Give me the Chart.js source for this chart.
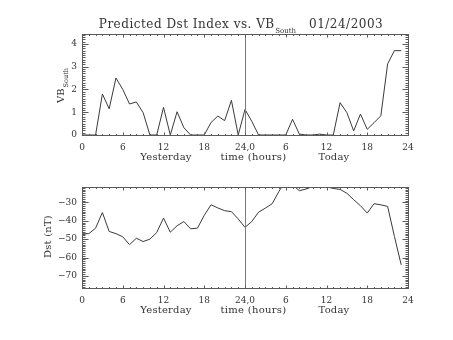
<!DOCTYPE html>
<html><head><meta charset="utf-8">
<script src="https://cdn.jsdelivr.net/npm/chart.js@4"></script>
<style>
html,body{margin:0;padding:0;background:#fff;}
#wrap{position:relative;width:453px;height:340px;overflow:hidden;background:#fff;}
canvas{position:absolute;left:0;}
#c1{top:0;} #c2{top:170px;}
</style></head><body>
<div id="wrap"><canvas id="c1" width="453" height="170"></canvas><canvas id="c2" width="453" height="170"></canvas></div>
<script>
// ---- data ----
const hours = [0,1,2,3,4,5,6,7,8,9,10,11,12,13,14,15,16,17,18,19,20,21,22,23,
               24,25,26,27,28,29,30,31,32,33,34,35,36,37,38,39,40,41,42,43,44,45,46,47];
const vbSouth = [0,0,0,1.8,1.15,2.5,2.0,1.36,1.45,0.98,0,0,1.21,0,1.02,0.32,0,0,0,0.55,0.83,0.63,1.52,0,
                 1.12,0.6,0,0,0,0,0,0.69,0.04,0,0,0.04,0,0,1.42,0.98,0.18,0.92,0.25,0.54,0.84,3.12,3.7,3.7];
const dst = [-47.1,-47,-44,-35.5,-45.8,-47,-48.7,-53,-49.5,-51.3,-50,-46.4,-38.5,-46.2,-42.7,-40.4,-44.4,-44,-37,-31.3,-33,-34.5,-35,-39,
             -43.6,-40.4,-35.3,-33.1,-30.7,-24,-18,-20.5,-23.6,-22.7,-21.3,-20.5,-21.5,-22.4,-22.9,-25,-28.5,-31.8,-35.8,-30.7,-31.3,-32.2,-48.5,-64];
const xTickValues = [0,6,12,18,24,30,36,42,48];
const xTickLabels = ['0','6','12','18','24,0','6','12','18','24'];
const vbTickValues = [0,1,2,3,4];
const dstTickValues = [-70,-60,-50,-40,-30];
const dayBoundary = 24;
const titleMain = 'Predicted Dst Index vs. VB';
const titleSub = 'South';
const titleDate = '01/24/2003';
const xTitleParts = ['Yesterday','time (hours)','Today'];
const vbTitle = 'VB', vbTitleSub = 'South';
const dstTitle = 'Dst (nT)';

// ---- style ----
const FONT = '"DejaVu Serif", serif';
const INK = '#333';
const FRAME = '#5a5a5a';
const LINE = '#3a3a3a';

function txt(ctx, s, x, y, size, align, ls) {
  ctx.font = size + 'px ' + FONT;
  if ('letterSpacing' in ctx) ctx.letterSpacing = (ls || 0) + 'px';
  ctx.textAlign = align || 'left';
  ctx.textBaseline = 'alphabetic';
  ctx.fillText(s, x, y);
}
function tw(ctx, s, size, ls) {
  ctx.font = size + 'px ' + FONT;
  if ('letterSpacing' in ctx) ctx.letterSpacing = (ls || 0) + 'px';
  return ctx.measureText(s).width;
}

const idlPlugin = {
  id: 'idl',
  afterDatasetsDraw(chart, args, o) {
    const {ctx, chartArea: a, scales: {x, y}} = chart;
    ctx.save();
    const L = Math.round(a.left) + 0.5, R = Math.round(a.right) + 0.5;
    const T = Math.round(a.top) + 0.5, B = Math.round(a.bottom) + 0.5;
    // day divider
    const xd = Math.round(x.getPixelForValue(dayBoundary)) + 0.5;
    ctx.strokeStyle = '#7a7a7a'; ctx.lineWidth = 1;
    ctx.beginPath(); ctx.moveTo(xd, T); ctx.lineTo(xd, B); ctx.stroke();
    // frame
    ctx.strokeStyle = FRAME;
    ctx.strokeRect(L, T, R - L, B - T);
    ctx.beginPath();
    for (let k = 0; x.min + k * o.xMinor <= x.max + 1e-9; k++) {
      const v = x.min + k * o.xMinor;
      const px = Math.round(x.getPixelForValue(v)) + 0.5;
      const major = Math.abs(v / o.xMajor - Math.round(v / o.xMajor)) < 1e-6;
      const len = major ? 3 : 1.5;
      ctx.moveTo(px, B); ctx.lineTo(px, B - len);
      ctx.moveTo(px, T); ctx.lineTo(px, T + len);
    }
    for (let k = Math.ceil(y.min / o.yMinor - 1e-9); k * o.yMinor <= y.max + 1e-9; k++) {
      const v = k * o.yMinor;
      const py = Math.round(y.getPixelForValue(v)) + 0.5;
      const major = Math.abs(v / o.yMajor - Math.round(v / o.yMajor)) < 1e-6;
      const len = major ? 6 : 3;
      ctx.moveTo(L, py); ctx.lineTo(L + len, py);
      ctx.moveTo(R, py); ctx.lineTo(R - len, py);
    }
    ctx.stroke();
    ctx.restore();
  },
  afterDraw(chart, args, o) {
    const {ctx, chartArea: a} = chart;
    ctx.save();
    ctx.fillStyle = INK;
    const cx = (a.left + a.right) / 2;
    // x axis title
    const by = a.bottom + 24.5;
    txt(ctx, xTitleParts[0], cx - 79, by, 10, 'center', 0.2);
    txt(ctx, xTitleParts[1], cx + 8.5, by, 10, 'center', 0.3);
    txt(ctx, xTitleParts[2], cx + 89, by, 10, 'center', 0.2);
    // y axis title
    ctx.save();
    if (o.which === 'vb') {
      const w1 = tw(ctx, vbTitle, 10, 0), w2 = tw(ctx, vbTitleSub, 6.5, 0);
      ctx.translate(a.left - 18.5, (a.top + a.bottom) / 2 + 1);
      ctx.rotate(-Math.PI / 2);
      const s = -(w1 + w2 + 1) / 2;
      txt(ctx, vbTitle, s, 0, 10, 'left', 0);
      txt(ctx, vbTitleSub, s + w1 + 1, 4.5, 6.5, 'left', 0);
    } else {
      ctx.translate(a.left - 31, (a.top + a.bottom) / 2 - 1);
      ctx.rotate(-Math.PI / 2);
      txt(ctx, dstTitle, 0, 0, 10, 'center', 0.2);
    }
    ctx.restore();
    // main title
    if (o.title) {
      const w1 = tw(ctx, titleMain, 12, 0.5), w2 = tw(ctx, titleSub, 7, 0), w3 = tw(ctx, titleDate, 12, 0.5);
      const gap = 13;
      const total = w1 + 0.5 + w2 + gap + w3;
      let sx = cx - 4 - total / 2;
      const ty = a.top - 6;
      txt(ctx, titleMain, sx, ty, 12, 'left', 0.5);
      sx += w1 + 0.5;
      txt(ctx, titleSub, sx, ty + 5, 7, 'left', 0);
      sx += w2 + gap;
      txt(ctx, titleDate, sx, ty, 12, 'left', 0.5);
    }
    ctx.restore();
  }
};

function makeChart(id, values, yMin, yMax, yTicks, yMinor, yMajor, pad, xH, which) {
  return new Chart(document.getElementById(id), {
    type: 'line',
    data: { datasets: [{
      data: hours.map((h, i) => ({x: h, y: values[i]})),
      borderColor: LINE, borderWidth: 1, pointRadius: 0, tension: 0, fill: false
    }]},
    options: {
      responsive: false, animation: false, devicePixelRatio: 1,
      layout: { padding: pad },
      plugins: { legend: {display: false}, tooltip: {enabled: false}, title: {display: false},
        idl: { xMinor: 1, xMajor: 6, yMinor: yMinor, yMajor: yMajor, which: which, title: which === 'vb' } },
      scales: {
        x: {
          type: 'linear', min: 0, max: 48,
          grid: {display: false, drawTicks: false}, border: {display: false},
          afterBuildTicks: s => { s.ticks = xTickValues.map(v => ({value: v})); },
          afterFit: s => { s.height = xH; },
          ticks: { color: INK, font: {family: FONT, size: 9}, padding: 7, maxRotation: 0, autoSkip: false,
            callback: v => xTickLabels[xTickValues.indexOf(v)] }
        },
        y: {
          type: 'linear', min: yMin, max: yMax,
          grid: {display: false, drawTicks: false}, border: {display: false},
          afterBuildTicks: s => { s.ticks = yTicks.map(v => ({value: v})); },
          afterFit: s => { s.width = 82; },
          ticks: { color: INK, font: {family: FONT, size: 9}, padding: 5, autoSkip: false,
            callback: v => String(v).replace('-', '\u2212') }
        }
      }
    },
    plugins: [idlPlugin]
  });
}

makeChart('c1', vbSouth, 0, 4.43, vbTickValues, 0.1, 1, {left: 0, right: 45, top: 34, bottom: 0}, 35, 'vb');
makeChart('c2', dst, -76.6, -21.6, dstTickValues, 1, 10, {left: 0, right: 45, top: 17, bottom: 0}, 52, 'dst');
</script>
</body></html>
